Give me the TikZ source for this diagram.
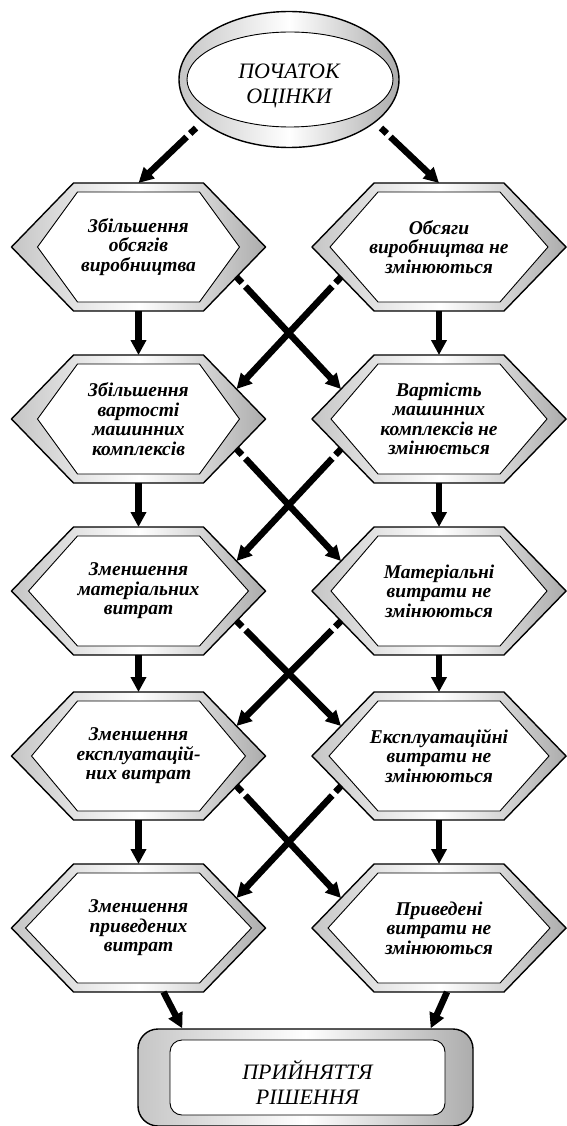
\documentclass[tikz,border=0pt]{standalone}
\usepackage{fontspec}
\setmainfont{Liberation Serif}
\usetikzlibrary{arrows.meta,shapes.geometric,calc}

\tikzset{
  bevel/.style={left color=gray!45, right color=gray!65, middle color=white, draw=black, line width=1.4pt},
  face/.style={fill=white, draw=black, line width=0.9pt},
  hextext/.style={font=\fontsize{19.5}{19.5}\selectfont\bfseries\itshape, align=center, inner sep=0pt},
  bigtext/.style={font=\fontsize{22}{25}\selectfont\itshape, align=center, inner sep=0pt},
  arr/.style={line width=6.5pt, -{Triangle[length=15pt,width=15pt]}},
  darr/.style={arr, dash pattern=on 8pt off 5pt on 2000pt},
}

\newcommand{\hexbox}[5]{%
  \path[bevel] (#2-127,#3) -- (#2-65,#3-64) -- (#2+65,#3-64) -- (#2+127,#3) -- (#2+65,#3+64) -- (#2-65,#3+64) -- cycle;
  \path[face] (#2-#4,#3) -- (#2-61,#3-55) -- (#2+61,#3-55) -- (#2+#4,#3) -- (#2+61,#3+55) -- (#2-61,#3+55) -- cycle;
  \node[hextext] (#1) at (#2,#3) {#5};
  \coordinate (#1-n) at (#2,#3-64);
  \coordinate (#1-s) at (#2,#3+64);
  \coordinate (#1-ne) at (#2+98,#3-30);
  \coordinate (#1-nw) at (#2-98,#3-30);
  \coordinate (#1-se) at (#2+98,#3+30);
  \coordinate (#1-sw) at (#2-98,#3+30);
}

\begin{document}
\begin{tikzpicture}[x=1pt,y=-1pt]
\useasboundingbox (0,0) rectangle (566,1126);

% start ellipse
\node[ellipse, bevel, minimum width=220pt, minimum height=136pt, inner sep=0pt] (start) at (289,79.5) {};
\node[ellipse, face, minimum width=206pt, minimum height=95pt, inner sep=0pt] (startin) at (290,79.5) {};
\node[bigtext] (starttxt) at (289,86) {ПОЧАТОК\\ОЦІНКИ};

% hexagons
\hexbox{L1}{138.5}{247}{101}{Збільшення\\обсягів\\виробництва}
\hexbox{R1}{439}{247}{109}{Обсяги\\виробництва не\\змінюються}
\hexbox{L2}{138.5}{419}{101}{Збільшення\\вартості\\машинних\\комплексів}
\hexbox{R2}{439}{419}{108}{Вартість\\машинних\\комплексів не\\змінюється}
\hexbox{L3}{138.5}{591}{110}{Зменшення\\матеріальних\\витрат}
\hexbox{R3}{439}{591}{108}{Матеріальні\\витрати не\\змінюються}
\hexbox{L4}{138.5}{756}{107}{Зменшення\\експлуатацій-\\них витрат}
\hexbox{R4}{439}{756}{110}{Експлуатаційні\\витрати не\\змінюються}
\hexbox{L5}{138.5}{928}{113}{Зменшення\\приведених\\витрат}
\hexbox{R5}{439}{928}{111}{Приведені\\витрати не\\змінюються}

% end box
\node[rectangle, rounded corners=20pt, bevel, minimum width=335pt, minimum height=97pt, inner sep=0pt] (endbox) at (305.5,1077.5) {};
\node[rectangle, rounded corners=12pt, face, minimum width=275pt, minimum height=75pt, inner sep=0pt] (endin) at (307.5,1077.5) {};
\node[bigtext] (endtxt) at (307.5,1082) {ПРИЙНЯТТЯ\\РІШЕННЯ};

% arrows from start
\coordinate (s1) at (196,128);
\coordinate (s2) at (381,128);
\draw[darr] (s1) -- (L1-n);
\draw[darr] (s2) -- (R1-n);

% vertical arrows
\foreach \a/\b in {1/2,2/3,3/4,4/5}{
  \draw[arr] (L\a-s) -- (L\b-n);
  \draw[arr] (R\a-s) -- (R\b-n);
}

% crossing arrows
\foreach \a/\b in {1/2,2/3,3/4,4/5}{
  \draw[darr] (L\a-se) -- (R\b-nw);
  \draw[darr] (R\a-sw) -- (L\b-ne);
}

% arrows to end box
\coordinate (b1) at ($(L5-s)+(25,0)$);
\coordinate (b2) at ($(R5-s)+(8,0)$);
\coordinate (e1) at ($(endbox.north west)+(45,0)$);
\coordinate (e2) at ($(endbox.north east)+(-43,0)$);
\draw[arr] (b1) -- (e1);
\draw[arr] (b2) -- (e2);
\end{tikzpicture}
\end{document}
